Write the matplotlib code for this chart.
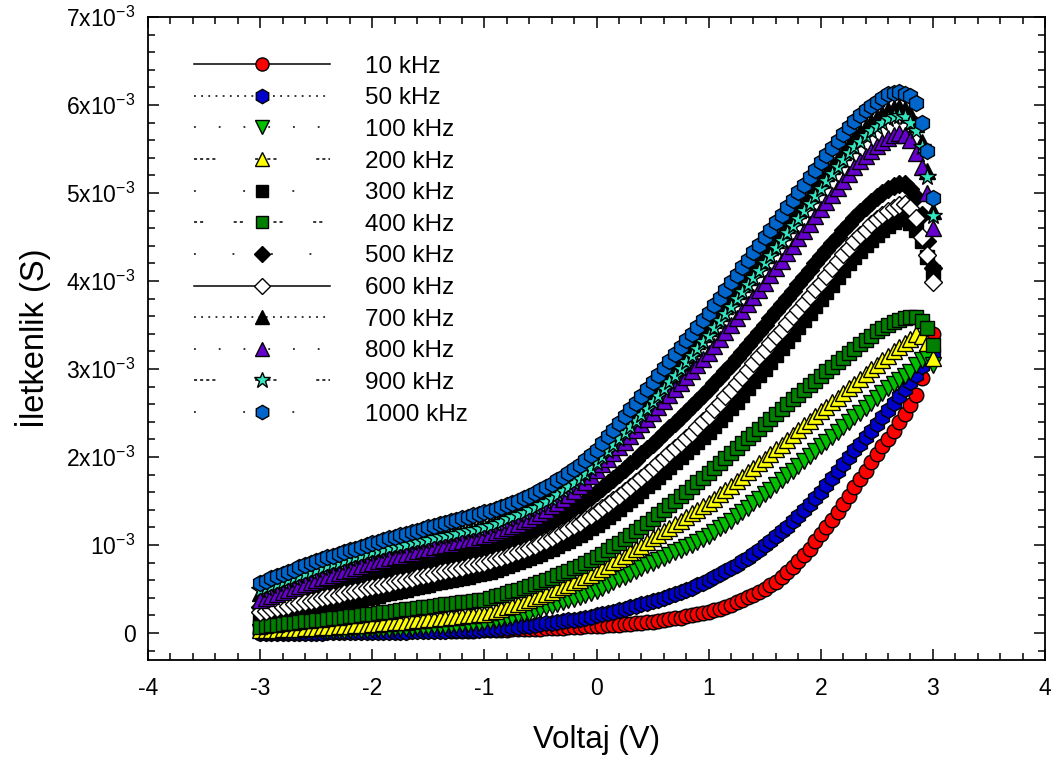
import matplotlib
matplotlib.use('Agg')
import matplotlib.pyplot as plt
from matplotlib.lines import Line2D
from matplotlib.ticker import MultipleLocator, FuncFormatter
import numpy as np

plt.rcParams['font.family'] = ['Liberation Sans', 'DejaVu Sans']
plt.rcParams['mathtext.fontset'] = 'custom'
plt.rcParams['mathtext.rm'] = 'Liberation Sans'
plt.rcParams['mathtext.it'] = 'Liberation Sans:italic'
plt.rcParams['mathtext.default'] = 'regular'
plt.rcParams['axes.unicode_minus'] = False

# voltage sweep (V), same for every frequency
voltage = np.round(np.arange(-3.0, 3.0001, 0.05), 2)

# conductance in units of 1e-3 S, one row per 0.5 V
g_10k = [0.000, 0.000, 0.001, 0.001, 0.002, 0.002, 0.003, 0.003, 0.004, 0.004,
         0.005, 0.005, 0.006, 0.006, 0.007, 0.007, 0.008, 0.008, 0.009, 0.009,
         0.010, 0.011, 0.012, 0.013, 0.014, 0.015, 0.016, 0.017, 0.018, 0.019,
         0.020, 0.021, 0.022, 0.023, 0.024, 0.025, 0.026, 0.027, 0.028, 0.029,
         0.030, 0.032, 0.034, 0.036, 0.038, 0.040, 0.042, 0.044, 0.046, 0.048,
         0.050, 0.053, 0.056, 0.059, 0.062, 0.065, 0.068, 0.071, 0.074, 0.077,
         0.080, 0.084, 0.088, 0.092, 0.096, 0.100, 0.105, 0.110, 0.115, 0.122,
         0.130, 0.138, 0.146, 0.155, 0.165, 0.176, 0.188, 0.200, 0.213, 0.226,
         0.240, 0.258, 0.278, 0.300, 0.323, 0.348, 0.375, 0.405, 0.437, 0.470,
         0.500, 0.540, 0.585, 0.635, 0.690, 0.750, 0.815, 0.885, 0.960, 1.040,
         1.120, 1.200, 1.285, 1.375, 1.465, 1.560, 1.655, 1.750, 1.845, 1.940,
         2.030, 2.120, 2.210, 2.300, 2.395, 2.490, 2.590, 2.710, 2.900, 3.130,
         3.400]
g_50k = [0.000, 0.000, 0.001, 0.001, 0.002, 0.002, 0.003, 0.003, 0.004, 0.004,
         0.005, 0.005, 0.006, 0.006, 0.007, 0.007, 0.008, 0.008, 0.009, 0.009,
         0.010, 0.011, 0.012, 0.013, 0.014, 0.015, 0.016, 0.018, 0.019, 0.021,
         0.022, 0.024, 0.025, 0.027, 0.029, 0.031, 0.033, 0.035, 0.037, 0.039,
         0.040, 0.045, 0.050, 0.055, 0.060, 0.066, 0.072, 0.078, 0.085, 0.092,
         0.100, 0.108, 0.116, 0.125, 0.134, 0.143, 0.152, 0.162, 0.172, 0.186,
         0.200, 0.214, 0.228, 0.243, 0.258, 0.274, 0.290, 0.307, 0.324, 0.342,
         0.360, 0.380, 0.400, 0.421, 0.443, 0.466, 0.490, 0.515, 0.542, 0.570,
         0.600, 0.632, 0.665, 0.700, 0.736, 0.774, 0.813, 0.854, 0.898, 0.946,
         0.995, 1.045, 1.100, 1.155, 1.210, 1.270, 1.335, 1.400, 1.465, 1.530,
         1.600, 1.680, 1.760, 1.840, 1.920, 2.000, 2.075, 2.150, 2.225, 2.300,
         2.370, 2.450, 2.530, 2.610, 2.690, 2.770, 2.850, 2.930, 3.030, 3.120,
         3.180]
g_100k = [0.010, 0.011, 0.012, 0.013, 0.014, 0.015, 0.016, 0.017, 0.018, 0.019,
          0.020, 0.021, 0.022, 0.024, 0.026, 0.028, 0.030, 0.032, 0.035, 0.037,
          0.040, 0.043, 0.046, 0.049, 0.052, 0.055, 0.058, 0.061, 0.064, 0.068,
          0.072, 0.076, 0.080, 0.084, 0.088, 0.093, 0.098, 0.103, 0.108, 0.114,
          0.120, 0.131, 0.143, 0.156, 0.170, 0.184, 0.199, 0.215, 0.232, 0.250,
          0.270, 0.290, 0.310, 0.330, 0.350, 0.370, 0.391, 0.413, 0.435, 0.457,
          0.480, 0.512, 0.544, 0.576, 0.608, 0.640, 0.672, 0.704, 0.736, 0.768,
          0.795, 0.825, 0.855, 0.885, 0.915, 0.945, 0.975, 1.005, 1.038, 1.070,
          1.105, 1.145, 1.188, 1.232, 1.278, 1.325, 1.373, 1.422, 1.472, 1.522,
          1.575, 1.628, 1.682, 1.736, 1.790, 1.845, 1.900, 1.955, 2.010, 2.065,
          2.120, 2.175, 2.230, 2.285, 2.340, 2.395, 2.450, 2.505, 2.560, 2.615,
          2.670, 2.725, 2.780, 2.830, 2.875, 2.920, 2.970, 3.040, 3.100, 3.120,
          3.050]
g_200k = [0.030, 0.033, 0.036, 0.039, 0.042, 0.045, 0.048, 0.051, 0.054, 0.057,
          0.060, 0.064, 0.068, 0.072, 0.076, 0.080, 0.084, 0.088, 0.092, 0.096,
          0.100, 0.105, 0.110, 0.115, 0.120, 0.125, 0.130, 0.136, 0.142, 0.148,
          0.154, 0.160, 0.166, 0.173, 0.180, 0.187, 0.194, 0.201, 0.208, 0.214,
          0.220, 0.236, 0.253, 0.271, 0.290, 0.310, 0.331, 0.353, 0.375, 0.397,
          0.420, 0.444, 0.469, 0.495, 0.521, 0.548, 0.575, 0.603, 0.632, 0.661,
          0.690, 0.728, 0.766, 0.804, 0.842, 0.880, 0.918, 0.956, 0.994, 1.035,
          1.078, 1.118, 1.158, 1.198, 1.238, 1.278, 1.318, 1.358, 1.398, 1.438,
          1.480, 1.527, 1.575, 1.624, 1.674, 1.725, 1.776, 1.827, 1.878, 1.929,
          1.980, 2.033, 2.087, 2.141, 2.195, 2.250, 2.304, 2.358, 2.412, 2.466,
          2.520, 2.572, 2.624, 2.676, 2.728, 2.780, 2.834, 2.888, 2.942, 2.996,
          3.050, 3.100, 3.150, 3.200, 3.250, 3.300, 3.345, 3.395, 3.380, 3.300,
          3.120]
g_300k = [0.150, 0.163, 0.176, 0.189, 0.202, 0.215, 0.228, 0.241, 0.254, 0.267,
          0.280, 0.293, 0.306, 0.319, 0.332, 0.345, 0.358, 0.371, 0.384, 0.397,
          0.410, 0.424, 0.438, 0.452, 0.466, 0.480, 0.494, 0.508, 0.522, 0.536,
          0.550, 0.563, 0.576, 0.589, 0.602, 0.615, 0.628, 0.641, 0.654, 0.667,
          0.680, 0.698, 0.717, 0.737, 0.758, 0.780, 0.803, 0.827, 0.851, 0.875,
          0.900, 0.928, 0.957, 0.987, 1.018, 1.050, 1.083, 1.117, 1.152, 1.190,
          1.230, 1.275, 1.320, 1.366, 1.413, 1.461, 1.510, 1.560, 1.612, 1.665,
          1.720, 1.773, 1.827, 1.882, 1.938, 1.995, 2.053, 2.111, 2.168, 2.225,
          2.280, 2.350, 2.420, 2.490, 2.560, 2.630, 2.700, 2.780, 2.860, 2.930,
          3.000, 3.080, 3.160, 3.240, 3.320, 3.400, 3.480, 3.560, 3.640, 3.720,
          3.800, 3.880, 3.960, 4.040, 4.120, 4.200, 4.270, 4.340, 4.405, 4.465,
          4.520, 4.575, 4.620, 4.665, 4.700, 4.700, 4.660, 4.580, 4.450, 4.270,
          4.100]
g_400k = [0.070, 0.078, 0.086, 0.094, 0.102, 0.110, 0.117, 0.124, 0.131, 0.138,
          0.145, 0.152, 0.159, 0.166, 0.173, 0.180, 0.188, 0.196, 0.204, 0.212,
          0.220, 0.228, 0.236, 0.244, 0.252, 0.260, 0.268, 0.276, 0.284, 0.292,
          0.300, 0.308, 0.316, 0.324, 0.332, 0.340, 0.348, 0.356, 0.364, 0.372,
          0.380, 0.397, 0.415, 0.433, 0.452, 0.472, 0.492, 0.513, 0.535, 0.557,
          0.580, 0.605, 0.630, 0.656, 0.682, 0.709, 0.737, 0.766, 0.796, 0.827,
          0.860, 0.900, 0.942, 0.984, 1.026, 1.070, 1.114, 1.160, 1.206, 1.253,
          1.300, 1.350, 1.400, 1.451, 1.502, 1.554, 1.606, 1.658, 1.712, 1.766,
          1.820, 1.875, 1.931, 1.987, 2.043, 2.099, 2.155, 2.211, 2.267, 2.323,
          2.380, 2.435, 2.490, 2.545, 2.600, 2.655, 2.710, 2.763, 2.816, 2.869,
          2.920, 2.972, 3.024, 3.076, 3.128, 3.180, 3.230, 3.280, 3.330, 3.380,
          3.430, 3.470, 3.505, 3.535, 3.560, 3.580, 3.595, 3.590, 3.550, 3.470,
          3.270]
g_500k = [0.300, 0.317, 0.334, 0.351, 0.368, 0.385, 0.402, 0.419, 0.436, 0.453,
          0.470, 0.486, 0.502, 0.518, 0.534, 0.550, 0.566, 0.582, 0.598, 0.614,
          0.630, 0.647, 0.664, 0.681, 0.698, 0.715, 0.732, 0.749, 0.766, 0.783,
          0.800, 0.816, 0.832, 0.848, 0.864, 0.880, 0.896, 0.912, 0.928, 0.944,
          0.960, 0.980, 1.001, 1.023, 1.046, 1.070, 1.095, 1.121, 1.147, 1.173,
          1.200, 1.234, 1.269, 1.305, 1.342, 1.380, 1.419, 1.459, 1.500, 1.548,
          1.600, 1.650, 1.701, 1.753, 1.806, 1.860, 1.915, 1.971, 2.030, 2.090,
          2.150, 2.210, 2.270, 2.330, 2.390, 2.450, 2.512, 2.575, 2.640, 2.705,
          2.770, 2.840, 2.910, 2.980, 3.050, 3.120, 3.195, 3.270, 3.345, 3.420,
          3.500, 3.578, 3.656, 3.734, 3.812, 3.890, 3.968, 4.046, 4.124, 4.202,
          4.280, 4.355, 4.430, 4.505, 4.580, 4.650, 4.715, 4.780, 4.840, 4.900,
          4.950, 5.000, 5.050, 5.080, 5.100, 5.100, 5.050, 4.950, 4.750, 4.450,
          4.150]
g_600k = [0.240, 0.254, 0.268, 0.282, 0.296, 0.310, 0.324, 0.338, 0.352, 0.366,
          0.380, 0.394, 0.408, 0.422, 0.436, 0.450, 0.464, 0.478, 0.492, 0.506,
          0.520, 0.534, 0.548, 0.562, 0.576, 0.590, 0.604, 0.618, 0.632, 0.646,
          0.660, 0.674, 0.688, 0.702, 0.716, 0.730, 0.744, 0.758, 0.772, 0.786,
          0.800, 0.818, 0.837, 0.857, 0.878, 0.899, 0.921, 0.944, 0.968, 0.994,
          1.020, 1.050, 1.081, 1.113, 1.146, 1.180, 1.215, 1.251, 1.290, 1.330,
          1.370, 1.416, 1.463, 1.511, 1.560, 1.610, 1.661, 1.713, 1.767, 1.822,
          1.880, 1.935, 1.990, 2.046, 2.102, 2.159, 2.217, 2.276, 2.341, 2.405,
          2.470, 2.543, 2.616, 2.690, 2.764, 2.838, 2.913, 2.988, 3.066, 3.144,
          3.220, 3.296, 3.372, 3.448, 3.524, 3.600, 3.676, 3.752, 3.828, 3.904,
          3.980, 4.062, 4.144, 4.224, 4.302, 4.380, 4.450, 4.520, 4.585, 4.645,
          4.700, 4.750, 4.800, 4.835, 4.860, 4.870, 4.830, 4.720, 4.500, 4.300,
          3.990]
g_700k = [0.450, 0.475, 0.500, 0.525, 0.550, 0.575, 0.600, 0.625, 0.650, 0.675,
          0.700, 0.721, 0.742, 0.762, 0.782, 0.802, 0.822, 0.842, 0.862, 0.881,
          0.900, 0.916, 0.932, 0.948, 0.964, 0.980, 0.996, 1.012, 1.028, 1.044,
          1.060, 1.076, 1.092, 1.108, 1.124, 1.140, 1.156, 1.172, 1.188, 1.204,
          1.220, 1.242, 1.265, 1.289, 1.314, 1.340, 1.367, 1.395, 1.423, 1.451,
          1.480, 1.518, 1.558, 1.600, 1.644, 1.690, 1.738, 1.788, 1.840, 1.900,
          1.970, 2.043, 2.116, 2.189, 2.262, 2.335, 2.408, 2.481, 2.554, 2.627,
          2.700, 2.777, 2.854, 2.931, 3.008, 3.085, 3.162, 3.239, 3.316, 3.393,
          3.470, 3.553, 3.636, 3.719, 3.802, 3.885, 3.968, 4.051, 4.134, 4.217,
          4.300, 4.385, 4.470, 4.555, 4.640, 4.725, 4.810, 4.895, 4.980, 5.065,
          5.150, 5.232, 5.312, 5.390, 5.470, 5.550, 5.620, 5.690, 5.750, 5.805,
          5.850, 5.900, 5.940, 5.965, 5.980, 5.960, 5.900, 5.780, 5.580, 5.250,
          4.800]
g_800k = [0.380, 0.402, 0.424, 0.446, 0.468, 0.490, 0.512, 0.534, 0.556, 0.578,
          0.600, 0.620, 0.640, 0.660, 0.680, 0.700, 0.720, 0.740, 0.760, 0.780,
          0.800, 0.816, 0.832, 0.848, 0.864, 0.880, 0.896, 0.912, 0.928, 0.944,
          0.960, 0.974, 0.988, 1.002, 1.016, 1.030, 1.044, 1.058, 1.072, 1.086,
          1.100, 1.121, 1.143, 1.166, 1.190, 1.215, 1.241, 1.268, 1.298, 1.328,
          1.360, 1.398, 1.438, 1.480, 1.524, 1.570, 1.618, 1.668, 1.720, 1.784,
          1.850, 1.915, 1.980, 2.045, 2.110, 2.175, 2.240, 2.305, 2.370, 2.435,
          2.500, 2.568, 2.636, 2.704, 2.772, 2.840, 2.908, 2.976, 3.044, 3.112,
          3.180, 3.260, 3.340, 3.420, 3.500, 3.580, 3.660, 3.740, 3.820, 3.900,
          3.980, 4.064, 4.148, 4.232, 4.316, 4.400, 4.484, 4.568, 4.652, 4.736,
          4.820, 4.900, 4.980, 5.060, 5.140, 5.220, 5.290, 5.360, 5.420, 5.480,
          5.530, 5.585, 5.630, 5.660, 5.680, 5.660, 5.600, 5.450, 5.300, 5.000,
          4.600]
g_900k = [0.490, 0.513, 0.536, 0.559, 0.582, 0.605, 0.628, 0.651, 0.674, 0.697,
          0.720, 0.740, 0.760, 0.780, 0.800, 0.820, 0.840, 0.860, 0.880, 0.900,
          0.920, 0.934, 0.948, 0.962, 0.976, 0.990, 1.004, 1.018, 1.032, 1.046,
          1.060, 1.074, 1.088, 1.102, 1.116, 1.130, 1.144, 1.158, 1.172, 1.186,
          1.200, 1.221, 1.243, 1.266, 1.290, 1.315, 1.341, 1.368, 1.395, 1.422,
          1.450, 1.487, 1.526, 1.567, 1.610, 1.655, 1.702, 1.751, 1.802, 1.865,
          1.930, 1.999, 2.068, 2.137, 2.206, 2.275, 2.344, 2.413, 2.482, 2.551,
          2.620, 2.696, 2.772, 2.848, 2.924, 3.000, 3.076, 3.152, 3.228, 3.304,
          3.380, 3.462, 3.544, 3.626, 3.708, 3.790, 3.872, 3.954, 4.036, 4.118,
          4.200, 4.285, 4.370, 4.455, 4.540, 4.625, 4.710, 4.795, 4.880, 4.965,
          5.050, 5.132, 5.214, 5.295, 5.375, 5.450, 5.520, 5.585, 5.645, 5.700,
          5.750, 5.800, 5.840, 5.865, 5.880, 5.860, 5.800, 5.700, 5.520, 5.180,
          4.740]
g_1000k = [0.570, 0.595, 0.620, 0.645, 0.670, 0.695, 0.720, 0.745, 0.770, 0.795,
           0.820, 0.840, 0.860, 0.880, 0.900, 0.920, 0.940, 0.960, 0.980, 1.000,
           1.020, 1.038, 1.056, 1.074, 1.092, 1.110, 1.128, 1.146, 1.164, 1.182,
           1.200, 1.217, 1.234, 1.251, 1.268, 1.285, 1.302, 1.319, 1.336, 1.353,
           1.370, 1.390, 1.411, 1.433, 1.456, 1.480, 1.505, 1.532, 1.561, 1.590,
           1.620, 1.656, 1.694, 1.734, 1.776, 1.820, 1.866, 1.914, 1.964, 2.020,
           2.080, 2.157, 2.234, 2.311, 2.388, 2.465, 2.542, 2.619, 2.696, 2.773,
           2.850, 2.929, 3.008, 3.087, 3.166, 3.245, 3.324, 3.403, 3.482, 3.561,
           3.640, 3.726, 3.812, 3.898, 3.984, 4.070, 4.156, 4.242, 4.328, 4.414,
           4.500, 4.585, 4.670, 4.755, 4.840, 4.925, 5.010, 5.095, 5.180, 5.265,
           5.350, 5.435, 5.515, 5.595, 5.675, 5.750, 5.820, 5.885, 5.940, 5.990,
           6.030, 6.080, 6.120, 6.140, 6.150, 6.130, 6.100, 6.020, 5.800, 5.480,
           4.940]

labels = ['10 kHz', '50 kHz', '100 kHz', '200 kHz', '300 kHz', '400 kHz',
          '500 kHz', '600 kHz', '700 kHz', '800 kHz', '900 kHz', '1000 kHz']
series = [g_10k, g_50k, g_100k, g_200k, g_300k, g_400k,
          g_500k, g_600k, g_700k, g_800k, g_900k, g_1000k]

markers = ['o', 'h', 'v', '^', 's', 's', 'D', 'D', '^', '^', '*', 'h']
colors = ['#FF0000', '#0000CC', '#00C000', '#FFFF00', '#000000', '#007F00',
          '#000000', '#FFFFFF', '#000000', '#6600CC', '#33E6C0', '#0066CC']
sizes = [10.5, 11.5, 11.5, 11.5, 10, 10, 9, 9, 11.5, 11.5, 13, 11.5]
# line styles only show up in the legend
styles = ['-', (0, (1.2, 3.5)), (0, (1.2, 15)), (0, (2, 2, 2, 2, 2, 2, 2, 26)),
          (0, (1.2, 31)), (0, (2, 2, 2, 20)), (0, (1.2, 24)),
          '-', (0, (1.2, 3.5)), (0, (1.2, 15)), (0, (2, 2, 2, 2, 2, 2, 2, 26)),
          (0, (1.2, 31))]

fig = plt.figure(figsize=(10.53, 7.67), dpi=100)
ax = fig.add_axes([0.1406, 0.1395, 0.8518, 0.8383])

handles = []
for g, lab, m, c, s, ls in zip(series, labels, markers, colors, sizes, styles):
    y = np.array(g) * 1e-3
    ax.plot(voltage, y, ls='none', marker=m, ms=s, mfc=c, mec='black', mew=1.0)
    handles.append(Line2D([], [], color='black', lw=1.1, ls=ls, marker=m,
                          ms=s * 0.9, mfc=c, mec='black', mew=1.0, label=lab))

ax.set_xlim(-4, 4)
ax.set_ylim(-0.307e-3, 7e-3)
ax.xaxis.set_major_locator(MultipleLocator(1))
ax.xaxis.set_minor_locator(MultipleLocator(0.2))
ax.yaxis.set_major_locator(MultipleLocator(1e-3))
ax.yaxis.set_minor_locator(MultipleLocator(0.2e-3))


def yfmt(v, pos):
    n = int(round(v * 1e3))
    if n == 0:
        return '0'
    if n == 1:
        return '10$^{-3}$'
    return '%dx10$^{-3}$' % n


ax.yaxis.set_major_formatter(FuncFormatter(yfmt))
ax.tick_params(which='both', direction='in', top=True, right=True, width=1.1,
               labelsize=16.5)
ax.tick_params(which='major', length=8, pad=9)
ax.tick_params(axis='x', which='major', pad=12)
ax.tick_params(which='minor', length=5)
for sp in ax.spines.values():
    sp.set_linewidth(1.3)

ax.set_xlabel('Voltaj (V)', fontsize=22.5, labelpad=18)
ax.set_ylabel('İletkenlik (S)', fontsize=23.5, labelpad=11)

ax.legend(handles=handles, loc='upper left', bbox_to_anchor=(0.029, 0.97),
          frameon=False, numpoints=1, handlelength=5.6, handletextpad=1.45,
          labelspacing=0.395, fontsize=17.5, borderpad=0.3)

plt.savefig('out.png', dpi=100)
